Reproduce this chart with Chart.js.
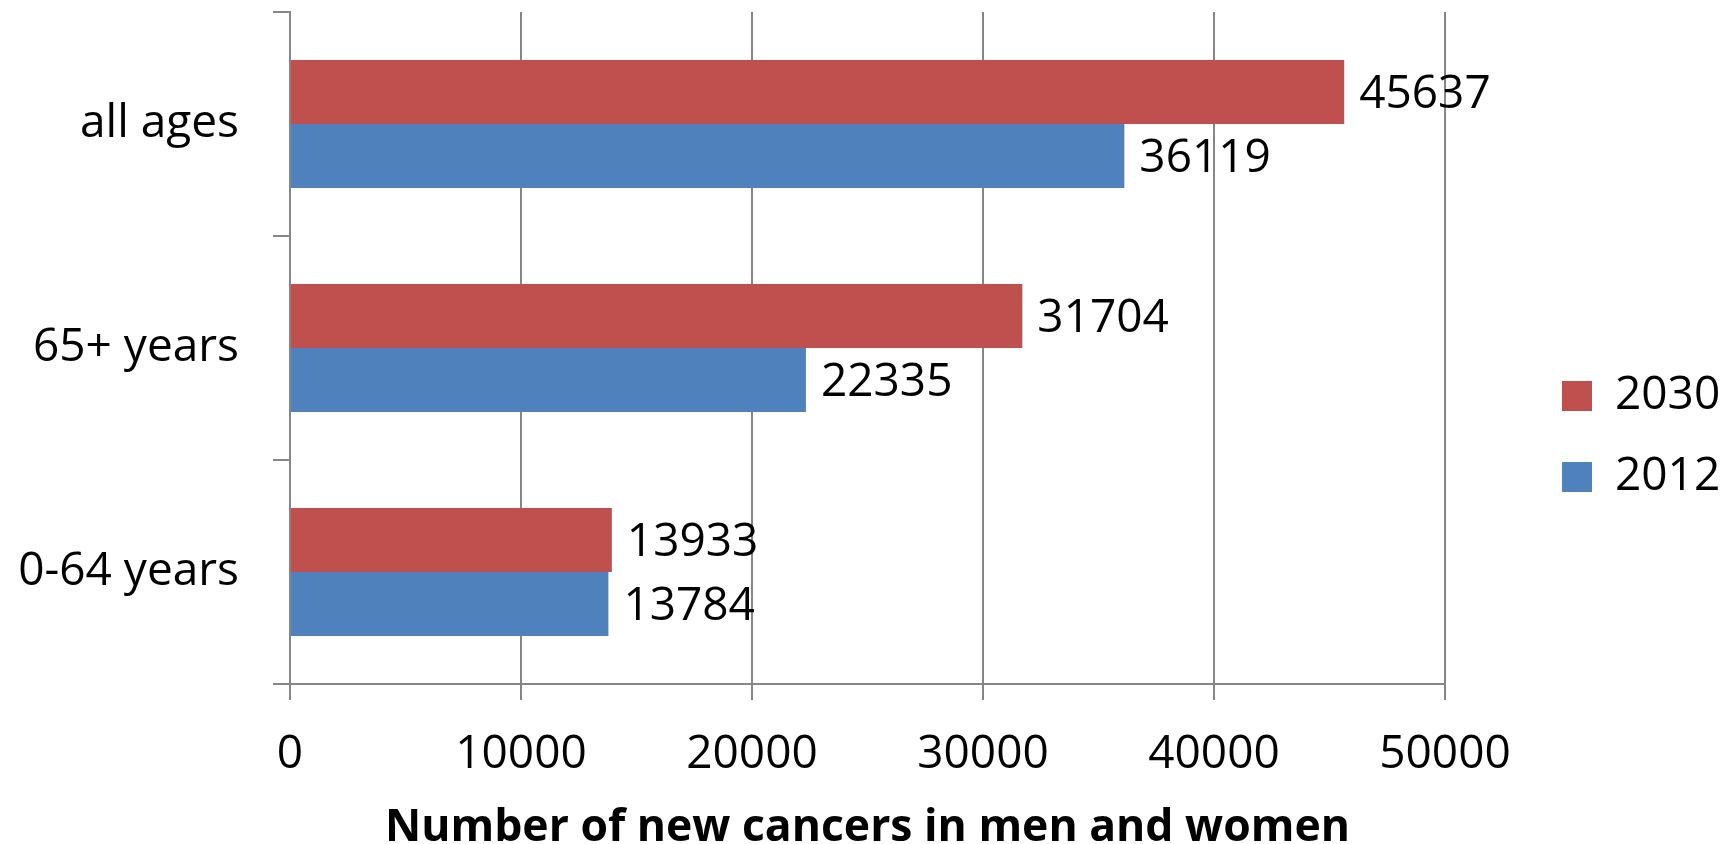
<!DOCTYPE html>
<html>
<head>
<meta charset="utf-8">
<script src="https://cdn.jsdelivr.net/npm/chart.js@4.4.1/dist/chart.umd.min.js"></script>
<style>
  html, body { margin: 0; padding: 0; background: #ffffff; }
  #wrap { width: 1729px; height: 844px; }
</style>
</head>
<body>
<div id="wrap"><canvas id="c" width="1729" height="844"></canvas></div>
<script>
const categories = ['all ages', '65+ years', '0-64 years'];
const seriesNames = ['2030', '2012'];
const values2030 = [45637, 31704, 13933];
const values2012 = [36119, 22335, 13784];
const xTicks = [0, 10000, 20000, 30000, 40000, 50000];
const axisTitle = 'Number of new cancers in men and women';

const FONT = "'Open Sans', 'Noto Sans', sans-serif";
const GRID = '#868686';

const dataLabels = {
  id: 'dataLabels',
  afterDatasetsDraw(chart) {
    const ctx = chart.ctx;
    ctx.save();
    ctx.font = '46px ' + FONT;
    ctx.fillStyle = '#000000';
    ctx.textAlign = 'left';
    ctx.textBaseline = 'middle';
    chart.data.datasets.forEach((ds, i) => {
      const meta = chart.getDatasetMeta(i);
      meta.data.forEach((el, j) => {
        ctx.fillText(String(ds.data[j]), el.x + 15, el.y + 3);
      });
    });
    ctx.restore();
  }
};

const legendPlace = {
  id: 'legendPlace',
  afterLayout(chart) {
    const lg = chart.legend;
    if (!lg) return;
    lg.left = 1527; lg.right = 1729;
    lg.top = 12; lg.bottom = 861;
  }
};

new Chart(document.getElementById('c'), {
  type: 'bar',
  data: {
    labels: categories,
    datasets: [
      { label: seriesNames[0], data: values2030, backgroundColor: '#C0504D', borderWidth: 0,
        barPercentage: 1, categoryPercentage: 0.5714 },
      { label: seriesNames[1], data: values2012, backgroundColor: '#4F81BD', borderWidth: 0,
        barPercentage: 1, categoryPercentage: 0.5714 }
    ]
  },
  options: {
    indexAxis: 'y',
    responsive: false,
    animation: false,
    devicePixelRatio: 1,
    layout: { padding: { left: 0, top: 12, right: 104, bottom: 0 } },
    plugins: {
      legend: {
        position: 'right',
        maxWidth: 180,
        labels: {
          boxWidth: 30, boxHeight: 30, padding: 35, color: '#000000',
          font: { family: FONT, size: 46 }
        }
      },
      tooltip: { enabled: false }
    },
    scales: {
      x: {
        type: 'linear',
        min: xTicks[0],
        max: xTicks[xTicks.length - 1],
        afterBuildTicks(axis) { axis.ticks = xTicks.map(v => ({ value: v })); },
        afterFit(axis) { axis.height = 160; axis.paddingLeft = 0; axis.paddingRight = 0; },
        grid: { color: GRID, lineWidth: 2, tickLength: 16, drawTicks: true },
        border: { display: true, color: GRID, width: 2 },
        ticks: { color: '#000000', padding: 27, font: { family: FONT, size: 46 },
                 callback: (v) => String(v) },
        title: {
          display: true, text: axisTitle, color: '#000000',
          font: { family: FONT, size: 44.5, weight: 'bold', lineHeight: 0.65 },
          padding: { top: 0, bottom: 1 }
        }
      },
      y: {
        afterFit(axis) { axis.width = 290; axis.paddingTop = 0; axis.paddingBottom = 0; },
        grid: { color: GRID, lineWidth: 2, tickLength: 17, drawOnChartArea: false, offset: true },
        border: { display: true, color: GRID, width: 2 },
        ticks: { color: '#000000', padding: 34, font: { family: FONT, size: 46 } }
      }
    }
  },
  plugins: [dataLabels, legendPlace]
});
</script>
</body>
</html>
